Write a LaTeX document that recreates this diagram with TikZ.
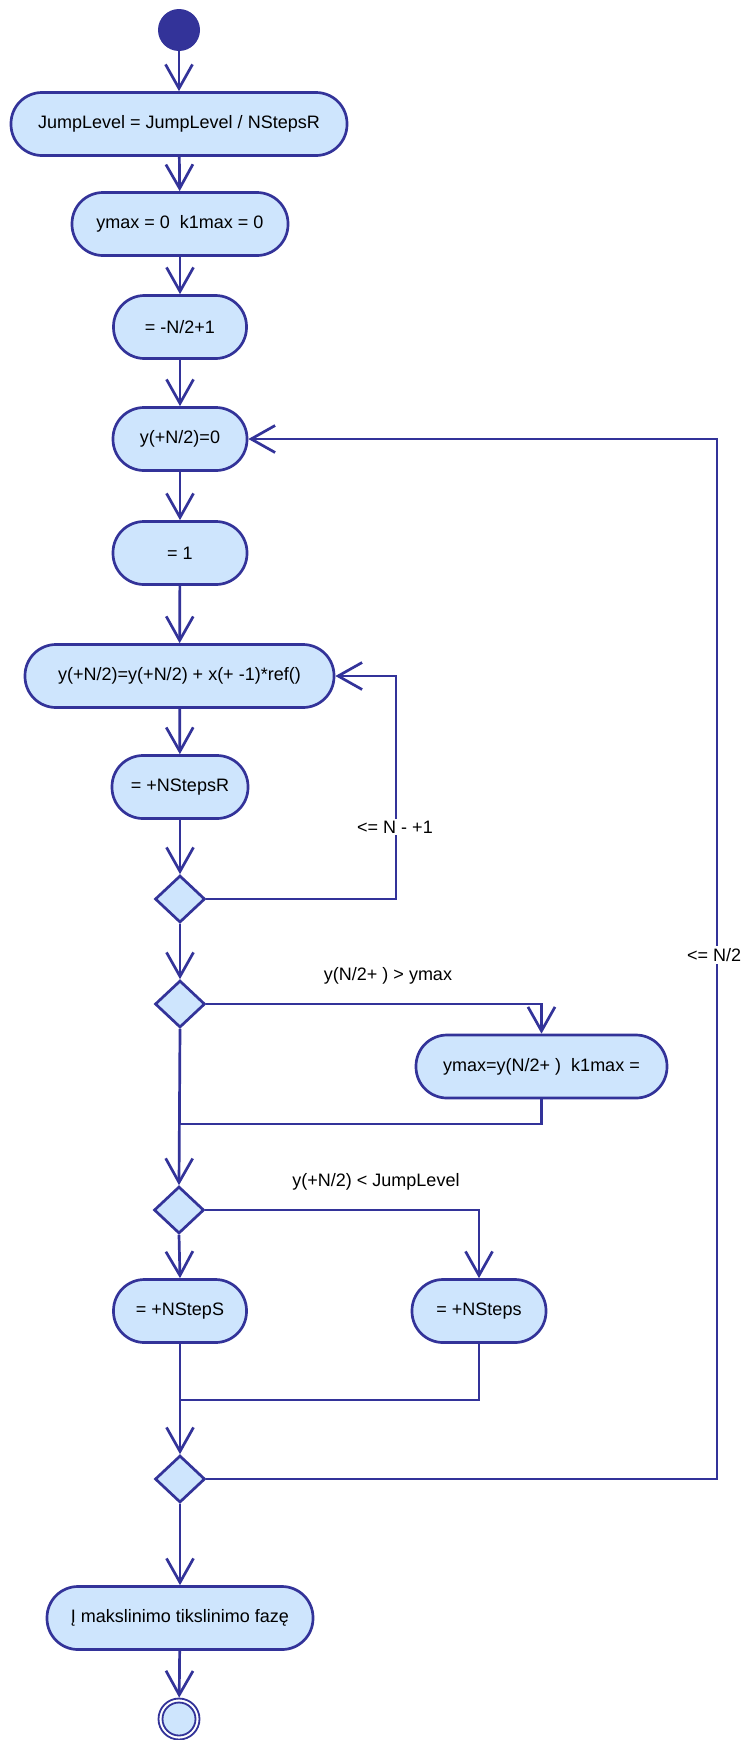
\documentclass[tikz,border=0pt]{standalone}
\usepackage{fontspec}
\setmainfont{Liberation Sans}
\usetikzlibrary{arrows.meta,shapes.geometric}
\definecolor{dblue}{RGB}{51,51,153}
\definecolor{lblue}{RGB}{206,229,253}
\begin{document}
\begin{tikzpicture}[x=1pt,y=-1pt,
  every node/.style={font=\fontsize{18}{21}\selectfont},
  act/.style={draw=dblue,fill=lblue,line width=2.7pt,rounded corners=31pt,minimum height=63pt,inner sep=0pt},
  dec/.style={diamond,draw=dblue,fill=lblue,line width=2.7pt,minimum width=50pt,minimum height=47pt,inner sep=0pt},
  arr/.style={draw=dblue,line width=2.7pt,-{Straight Barb[length=24pt,width=27pt]}},
  ln/.style={draw=dblue,line width=2.7pt},
  lab/.style={fill=white,inner sep=2pt}]
\useasboundingbox (0,0) rectangle (746,1740);
\node[circle,fill=dblue,minimum size=42pt,inner sep=0pt] (start) at (179,30) {};
\node[act,minimum width=336pt] (a1) at (179,124) {JumpLevel = JumpLevel / NStepsR};
\node[act,minimum width=216pt] (a2) at (180,224) {ymax = 0 \ k1max = 0};
\node[act,minimum width=133pt] (a3) at (180,327) {= -N/2+1};
\node[act,minimum width=134pt] (a4) at (180,439) {y(+N/2)=0};
\node[act,minimum width=134pt] (a5) at (180,553) {= 1};
\node[act,minimum width=309pt] (a6) at (179.5,676) {y(+N/2)=y(+N/2) + x(+ -1)*ref()};
\node[act,minimum width=136pt] (a7) at (180,787) {= +NStepsR};
\node[dec] (d1) at (180,899) {};
\node[dec] (d2) at (180,1004) {};
\node[act,minimum width=251pt] (a8) at (541.5,1066.5) {ymax=y(N/2+ ) \ k1max =};
\node[dec] (d3) at (179,1210) {};
\node[act,minimum width=133pt] (a9) at (180,1311) {= +NStepS};
\node[act,minimum width=134pt] (a10) at (479,1311) {= +NSteps};
\node[dec] (d4) at (180,1479) {};
\node[act,minimum width=266pt] (a11) at (180,1618) {Į makslinimo tikslinimo fazę};
\node[circle,draw=dblue,line width=1.8pt,fill=white,minimum size=41pt,inner sep=0pt] (end) at (179,1719) {};
\node[circle,draw=dblue,line width=1.8pt,fill=lblue,minimum size=33pt,inner sep=0pt] (endin) at (end) {};
\coordinate (c1) at (396,899);
\coordinate (j1) at (179,1124);
\coordinate (j2) at (179,1400);
\coordinate (c2) at (717,1479);
\draw[arr] (start) -- (a1);
\draw[arr] (a1) -- (a2);
\draw[arr] (a2) -- (a3);
\draw[arr] (a3) -- (a4);
\draw[arr] (a4) -- (a5);
\draw[arr] (a5) -- (a6);
\draw[arr] (a6) -- (a7);
\draw[arr] (a7) -- (d1);
\draw[arr] (d1) -- (d2);
\draw[arr] (d1.east) -- (c1) |- (a6.east);
\draw[arr] (d2.east) -| (a8.north);
\draw[ln] (a8.south) |- (j1);
\draw[arr] (d2.south) -- (d3.north);
\draw[arr] (d3.south) -- (a9.north);
\draw[arr] (d3.east) -| (a10.north);
\draw[ln] (a10.south) |- (j2);
\draw[arr] (a9.south) -- (d4.north);
\draw[arr] (d4.east) -- (c2) |- (a4.east);
\draw[arr] (d4) -- (a11);
\draw[arr] (a11) -- (end);
\node[lab] (l1) at (395,827) {<= N - +1};
\node[lab,anchor=west] (l4) at (685,955) {<= N/2};
\node (l2) at (388,976) {y(N/2+ ) > ymax};
\node (l3) at (376,1182) {y(+N/2) < JumpLevel};
\end{tikzpicture}
\end{document}
